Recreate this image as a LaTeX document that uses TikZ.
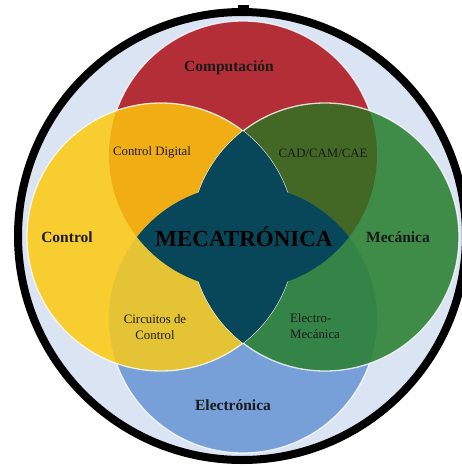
\documentclass[tikz,border=0pt]{standalone}
\usepackage{fontspec}
\setmainfont{Liberation Serif}
\definecolor{bgblue}{HTML}{DAE4F2}
\definecolor{compred}{HTML}{B32E36}
\definecolor{ctrlyellow}{HTML}{F7CD30}
\definecolor{mechgreen}{HTML}{3E8C48}
\definecolor{elecblue}{HTML}{78A0D8}
\definecolor{digorange}{HTML}{F0AE14}
\definecolor{cadolive}{HTML}{436826}
\definecolor{circyellow}{HTML}{E4C334}
\definecolor{emgreen}{HTML}{348448}
\definecolor{coreteal}{HTML}{08465A}
\definecolor{inktext}{HTML}{1A1A1A}
\begin{document}
\begin{tikzpicture}[x=1pt,y=-1pt,
  area/.style={font=\bfseries\fontsize{15.5}{18}\selectfont, text=inktext},
  overlap/.style={font=\fontsize{12.8}{16}\selectfont, text=inktext, align=center},
  rim/.style={draw=white, line width=1.3pt, opacity=0.8}]
\useasboundingbox (0,0) rectangle (462,467);
\clip (0,0) rectangle (462,467);

% circle centres
\coordinate (cT) at (243,155);
\coordinate (cB) at (243,319);
\coordinate (cL) at (161,237);
\coordinate (cR) at (325,237);
\coordinate (cO) at (242,236);
\def\rr{134pt}

% outer disc
\filldraw[fill=bgblue, draw=black, line width=8pt] (cO) circle[radius=224pt];
\fill[black] (238,5) rectangle (249,9);

% top and bottom circles with their rims
\fill[compred] (cT) circle[radius=\rr];
\fill[elecblue] (cB) circle[radius=\rr];
\draw[rim] (cT) circle[radius=\rr];
\draw[rim] (cB) circle[radius=\rr];

% side circles
\fill[ctrlyellow] (cL) circle[radius=\rr];
\fill[mechgreen] (cR) circle[radius=\rr];

% pairwise overlaps
\begin{scope}
  \clip (cT) circle[radius=\rr];
  \fill[digorange] (cL) circle[radius=\rr];
  \fill[cadolive] (cR) circle[radius=\rr];
\end{scope}
\begin{scope}
  \clip (cB) circle[radius=\rr];
  \fill[circyellow] (cL) circle[radius=\rr];
  \fill[emgreen] (cR) circle[radius=\rr];
\end{scope}

% rims of the side circles
\draw[rim] (cL) circle[radius=\rr];
\draw[rim] (cR) circle[radius=\rr];

% central four-pointed region
\begin{scope}
  \clip (cT) circle[radius=\rr];
  \fill[coreteal] (cB) circle[radius=\rr];
\end{scope}
\begin{scope}
  \clip (cL) circle[radius=\rr];
  \fill[coreteal] (cR) circle[radius=\rr];
\end{scope}

% labels
\node[area] (comp) at (229,68) {Computación};
\node[area] (ctrl) at (67,237) {Control};
\node[area] (mech) at (398,237) {Mecánica};
\node[area] (elec) at (233,405) {Electrónica};
\node[overlap] (cdig) at (152,152) {Control Digital};
\node[overlap] (cad) at (323,153) {CAD/CAM/CAE};
\node[overlap] (circ) at (155,327) {Circuitos de\\Control};
\node[overlap, align=left] (emec) at (315,326) {Electro-\\Mecánica};
\node[font=\bfseries\fontsize{23}{26}\selectfont, text=black] (core) at (244,237) {MECATRÓNICA};
\end{tikzpicture}
\end{document}
